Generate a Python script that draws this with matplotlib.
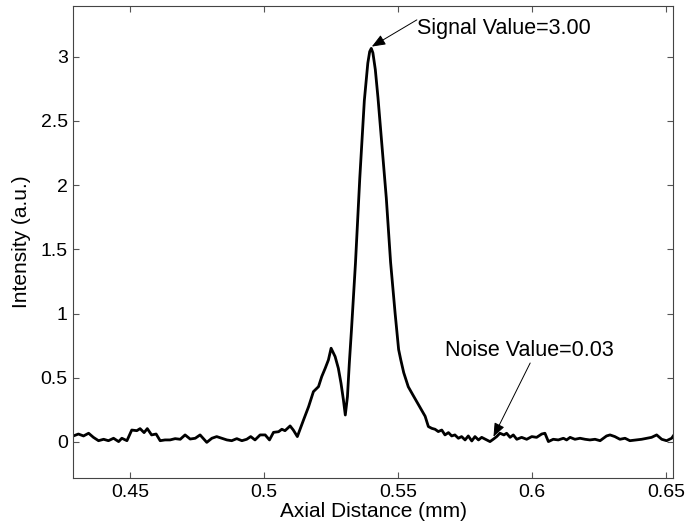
import matplotlib
matplotlib.use('Agg')
import matplotlib.pyplot as plt

plt.rcParams['font.family'] = ['Liberation Sans', 'DejaVu Sans']

# axial distance (mm) and intensity (a.u.)
axial_mm = [
    .4288, .4307, .4326, .4345, .4363, .4382, .4401, .4419, .4438, .4457,
    .4469, .4488, .4506, .4525, .4537, .4552, .4564, .4580, .4597, .4612,
    .4630, .4649, .4668, .4687, .4705, .4724, .4743, .4761, .4786, .4805,
    .4823, .4842, .4861, .4879, .4898, .4917, .4935, .4950, .4966, .4985,
    .5004, .5020, .5035, .5054, .5066, .5078, .5097, .5109, .5124,
    .5147, .5166, .5184, .5203, .5215, .5228, .5240, .5250, .5265, .5277,
    .5287, .5296, .5303, .5311, .5318, .5326,
    .5341, .5357, .5374, .5387, .5394, .5400, .5406, .5415, .5425, .5440,
    .5456, .5472, .5489, .5502, .5510, .5521, .5538, .5557, .5582, .5601,
    .5613, .5626,
    .5638, .5650, .5663, .5675, .5688, .5700, .5712, .5725, .5737, .5750,
    .5762, .5775, .5787, .5800, .5812, .5831, .5843, .5855, .5868, .5880,
    .5895, .5905, .5918, .5930, .5943, .5961, .5980, .5999, .6017, .6036,
    .6048, .6061, .6079, .6098, .6117, .6129, .6142, .6160, .6179, .6198,
    .6216, .6235, .6254, .6278, .6291, .6309, .6328, .6347, .6365, .6390,
    .6409, .6428, .6446, .6465, .6484, .6502, .6521, .6527,
]
intensity = [
    .047, .062, .047, .068, .036, .010, .021, .010, .029, .003,
    .029, .010, .093, .088, .104, .073, .104, .055, .062, .010,
    .016, .016, .026, .021, .055, .023, .029, .055, -.003, .029,
    .042, .029, .016, .010, .026, .010, .021, .042, .016, .055,
    .055, .016, .075, .080, .099, .088, .125, .093, .042,
    .171, .275, .392, .431, .509, .574, .639, .730, .665, .574,
    .457, .327, .210, .353, .613, .872,
    1.395, 2.053, 2.658, 2.950, 3.040, 3.065, 3.030, 2.900, 2.680, 2.300,
    1.900, 1.400, 1.000, .720, .640, .540, .430, .360, .270, .200,
    .120, .106,
    .099, .081, .093, .055, .073, .047, .055, .029, .042, .016,
    .047, .008, .042, .016, .036, .016, .003, .021, .042, .068,
    .055, .068, .036, .055, .021, .036, .021, .042, .036, .062,
    .068, .003, .021, .016, .029, .016, .036, .021, .029, .021,
    .016, .021, .010, .047, .055, .042, .021, .029, .010, .016,
    .021, .029, .036, .055, .021, .010, .029, .047,
]

x_ticks = [0.45, 0.5, 0.55, 0.6, 0.65]
x_tick_labels = ['0.45', '0.5', '0.55', '0.6', '0.65']
y_ticks = [0, 0.5, 1, 1.5, 2, 2.5, 3]
y_tick_labels = ['0', '0.5', '1', '1.5', '2', '2.5', '3']

fig = plt.figure(figsize=(6.88, 5.31), dpi=100)
ax = fig.add_axes([0.1066, 0.0992, 0.8712, 0.8895])

ax.plot(axial_mm, intensity, color='black', lw=2)

ax.set_xlim(0.4288, 0.6525)
ax.set_ylim(-0.283, 3.395)
ax.set_xticks(x_ticks)
ax.set_xticklabels(x_tick_labels)
ax.set_yticks(y_ticks)
ax.set_yticklabels(y_tick_labels)
ax.tick_params(direction='in', length=4.3, width=0.8, color='#555555',
               top=True, right=True, labelsize=14, pad=4)
for s in ax.spines.values():
    s.set_color('#444444')
    s.set_linewidth(0.8)

ax.set_xlabel('Axial Distance (mm)', fontsize=15, labelpad=1)
ax.set_ylabel('Intensity (a.u.)', fontsize=15, labelpad=7)

arrow = dict(arrowstyle='-|>,head_length=0.55,head_width=0.22', color='black',
             lw=0.7, shrinkA=0, shrinkB=0, mutation_scale=15)
ax.annotate('', xy=(0.5402, 3.079), xytext=(0.5570, 3.287), arrowprops=arrow)
ax.text(0.5572, 3.22, 'Signal Value=3.00', fontsize=15.5, va='center', ha='left')
ax.annotate('', xy=(0.5856, 0.041), xytext=(0.5993, 0.615), arrowprops=arrow)
ax.text(0.5675, 0.716, 'Noise Value=0.03', fontsize=15.5, va='center', ha='left')

fig.savefig('out.png', dpi=100)
